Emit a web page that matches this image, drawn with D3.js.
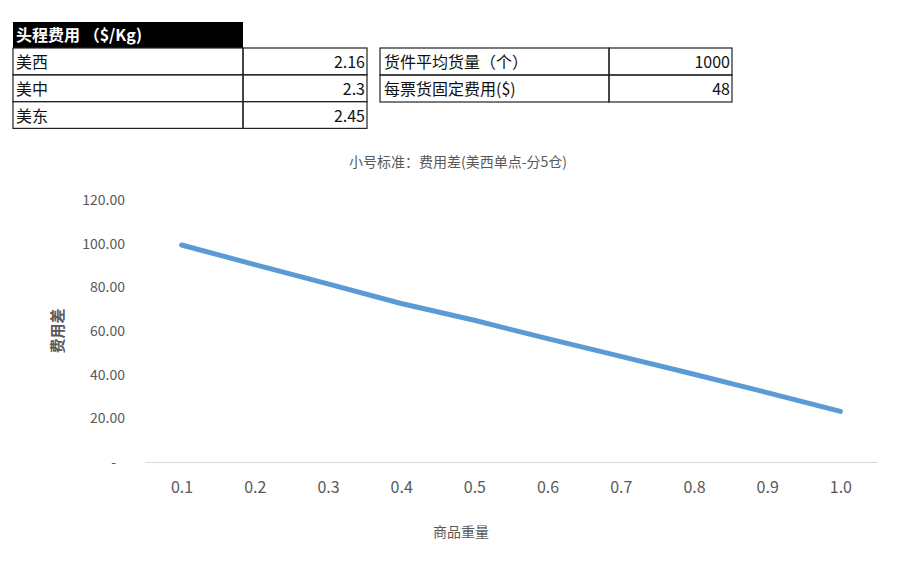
<!DOCTYPE html>
<html>
<head>
<meta charset="utf-8">
<script src="https://cdn.jsdelivr.net/npm/d3@7"></script>
<style>
  body { margin: 0; background: #fff; }
  text { font-family: "Noto Sans CJK SC", "Noto Sans", sans-serif; }
</style>
</head>
<body>
<div id="chart-area"></div>
<script>
// tables
var headTitle = "头程费用 （$/Kg)";
var regions = ["美西", "美中", "美东"];
var regionCost = ["2.16", "2.3", "2.45"];
var paramNames = ["货件平均货量（个）", "每票货固定费用($)"];
var paramValues = ["1000", "48"];

// chart
var weights = ["0.1", "0.2", "0.3", "0.4", "0.5", "0.6", "0.7", "0.8", "0.9", "1.0"];
var costDiff = [99.4, 90.4, 81.6, 72.6, 64.9, 56.5, 48.4, 40.2, 31.8, 23.2];
var yTicks = [0, 20, 40, 60, 80, 100, 120];

var width = 902;
var height = 566;

var svg = d3.select("#chart-area")
.append("svg")
    .attr("width", width)
    .attr("height", height);

// ---- table 1 ----
var t1 = { x0: 13, x1: 243, x2: 367, top: 22, rowH: 26.8 };
svg.append("rect")
    .attr("x", t1.x0).attr("y", t1.top)
    .attr("width", t1.x1 - t1.x0).attr("height", 26)
    .attr("fill", "#000");
svg.append("text")
    .attr("x", t1.x0 + 3).attr("y", t1.top + 19)
    .attr("fill", "#fff")
    .attr("font-size", "16px")
    .attr("font-weight", "bold")
    .text(headTitle);

var rows1 = svg.selectAll(".row1")
    .data(regions)
    .enter().append("g")
    .attr("class", "row1")
    .attr("transform", (d, i) => "translate(0," + (t1.top + 26 + i * t1.rowH) + ")");
rows1.append("rect")
    .attr("x", t1.x0).attr("width", t1.x1 - t1.x0).attr("height", t1.rowH)
    .attr("fill", "none").attr("stroke", "#222").attr("stroke-width", 1.2);
rows1.append("rect")
    .attr("x", t1.x1).attr("width", t1.x2 - t1.x1).attr("height", t1.rowH)
    .attr("fill", "none").attr("stroke", "#222").attr("stroke-width", 1.2);
rows1.append("text")
    .attr("x", t1.x0 + 3).attr("y", 20)
    .attr("font-size", "16px").attr("fill", "#111")
    .text((d) => d);
rows1.append("text")
    .attr("x", t1.x2 - 2).attr("y", 20)
    .attr("text-anchor", "end")
    .attr("font-size", "16px").attr("fill", "#111")
    .text((d, i) => regionCost[i]);

// ---- table 2 ----
var t2 = { x0: 380, x1: 609, x2: 732, top: 48, rowH: 27 };
var rows2 = svg.selectAll(".row2")
    .data(paramNames)
    .enter().append("g")
    .attr("class", "row2")
    .attr("transform", (d, i) => "translate(0," + (t2.top + i * t2.rowH) + ")");
rows2.append("rect")
    .attr("x", t2.x0).attr("width", t2.x1 - t2.x0).attr("height", t2.rowH)
    .attr("fill", "none").attr("stroke", "#222").attr("stroke-width", 1.2);
rows2.append("rect")
    .attr("x", t2.x1).attr("width", t2.x2 - t2.x1).attr("height", t2.rowH)
    .attr("fill", "none").attr("stroke", "#222").attr("stroke-width", 1.2);
rows2.append("text")
    .attr("x", t2.x0 + 4).attr("y", 20)
    .attr("font-size", "16px").attr("fill", "#111")
    .text((d) => d);
rows2.append("text")
    .attr("x", t2.x2 - 2).attr("y", 20)
    .attr("text-anchor", "end")
    .attr("font-size", "16px").attr("fill", "#111")
    .text((d, i) => paramValues[i]);

// ---- line chart ----
var plot = { left: 145, right: 877, top: 200, bottom: 462 };

var x = d3.scalePoint()
    .domain(weights)
    .range([plot.left, plot.right])
    .padding(0.5);

var y = d3.scaleLinear()
    .domain([0, 120])
    .range([plot.bottom, plot.top]);

svg.append("text")
    .attr("x", 458).attr("y", 167)
    .attr("text-anchor", "middle")
    .attr("font-size", "14px")
    .attr("fill", "#595959")
    .text("小号标准：费用差(美西单点-分5仓)");

var yAxisGroup = svg.append("g")
    .attr("transform", "translate(" + plot.left + ",0)")
    .call(d3.axisLeft(y)
        .tickValues(yTicks)
        .tickSize(0)
        .tickPadding(20)
        .tickFormat((d) => d === 0 ? "-" : d3.format(".2f")(d)));
yAxisGroup.select(".domain").remove();
yAxisGroup.selectAll("text")
    .attr("font-size", "14px")
    .attr("fill", "#595959")
    .style("font-family", "\"Noto Sans CJK SC\", sans-serif");
yAxisGroup.selectAll(".tick")
    .filter((d) => d === 0)
    .select("text")
    .attr("dx", "-9");

var xAxisGroup = svg.append("g")
    .attr("transform", "translate(0," + plot.bottom + ")")
    .call(d3.axisBottom(x).tickSize(0).tickPadding(20));
xAxisGroup.select(".domain")
    .attr("stroke", "#d9d9d9")
    .attr("stroke-width", 1.2);
xAxisGroup.selectAll("text")
    .attr("font-size", "16px")
    .attr("fill", "#595959")
    .style("font-family", "\"Noto Sans CJK SC\", sans-serif");

svg.append("text")
    .attr("x", -(331))
    .attr("y", 63)
    .attr("transform", "rotate(-90)")
    .attr("text-anchor", "middle")
    .attr("font-size", "15px")
    .attr("font-weight", "bold")
    .attr("fill", "#595959")
    .text("费用差");

svg.append("text")
    .attr("x", 461).attr("y", 537)
    .attr("text-anchor", "middle")
    .attr("font-size", "14px")
    .attr("fill", "#595959")
    .text("商品重量");

var line = d3.line()
    .x((d, i) => x(weights[i]))
    .y((d) => y(d));

svg.append("path")
    .datum(costDiff)
    .attr("d", line)
    .attr("fill", "none")
    .attr("stroke", "#5b9bd5")
    .attr("stroke-width", 5)
    .attr("stroke-linecap", "round")
    .attr("stroke-linejoin", "round");
</script>
</body>
</html>
